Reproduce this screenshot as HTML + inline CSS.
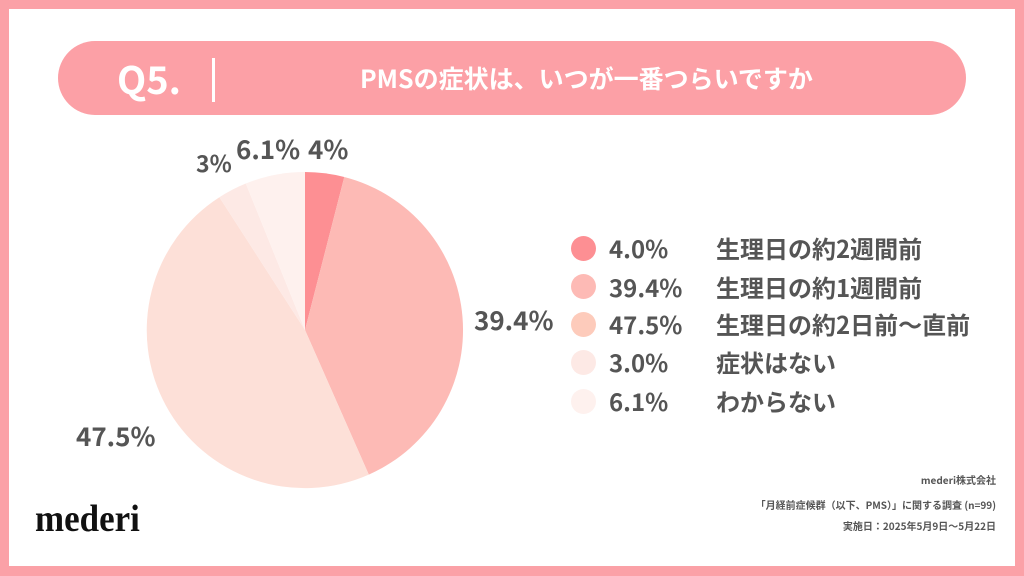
<!DOCTYPE html>
<html><head><meta charset="utf-8"><style>
html,body{margin:0;padding:0}
body{width:1024px;height:576px;background:#fba1a7;position:relative;overflow:hidden;font-family:"Noto Sans CJK JP","Liberation Sans",sans-serif;}
div{line-height:1}
.card{position:absolute;left:9px;top:9px;width:1006px;height:557px;background:#fff;}
.banner{position:absolute;left:58px;top:41px;width:908px;height:74px;border-radius:37px;background:#fca0a6;color:#fff;}
.q{position:absolute;left:117px;top:59px;font-size:38px;font-weight:bold;color:#fff;}
.bar{position:absolute;left:212px;top:58px;width:3px;height:44px;background:#fff;}
.title{position:absolute;left:360px;top:66px;font-size:25px;font-weight:bold;color:#fff;}
.t{position:absolute;font-weight:bold;color:#555;white-space:nowrap;}
.dot{position:absolute;width:25px;height:25px;border-radius:50%;left:571px;}
.ft{position:absolute;right:28px;font-size:10px;color:#555;font-weight:bold;}
</style></head><body>
<div class="card"></div>
<div class="banner"></div>
<div class="q">Q5.</div><div class="bar"></div>
<div class="title">PMSの症状は、いつが一番つらいですか</div>
<svg style="position:absolute;left:0;top:0" width="1024" height="576">
<path d="M305,330 L305,172 A158,158 0 0 1 344.3,177 Z" fill="#fd8f93"/>
<path d="M305,330 L344.3,177 A158,158 0 0 1 368.8,474.6 Z" fill="#fdbab5"/>
<path d="M305,330 L368.8,474.6 A158,158 0 0 1 219.4,197.2 Z" fill="#fde0d8"/>
<path d="M305,330 L219.4,197.2 A158,158 0 0 1 245.8,183.5 Z" fill="#fde9e5"/>
<path d="M305,330 L245.8,183.5 A158,158 0 0 1 305,172 Z" fill="#fef1ee"/>
</svg>
<div class="t" style="left:196px;top:151px;font-size:23px">3%</div>
<div class="t" style="left:236px;top:136px;font-size:26px">6.1%</div>
<div class="t" style="left:308px;top:136px;font-size:26px">4%</div>
<div class="t" style="left:474px;top:307px;font-size:26px">39.4%</div>
<div class="t" style="left:76px;top:423px;font-size:26px">47.5%</div>
<div class="dot" style="top:236px;background:#fd8f93"></div>
<div class="dot" style="top:274px;background:#fdbab5"></div>
<div class="dot" style="top:312px;background:#fdcbbb"></div>
<div class="dot" style="top:350px;background:#fde9e5"></div>
<div class="dot" style="top:389px;background:#fef1ee"></div>
<div class="t" style="left:609px;top:236px;font-size:24px">4.0%</div>
<div class="t" style="left:609px;top:275px;font-size:24px">39.4%</div>
<div class="t" style="left:609px;top:312px;font-size:24px">47.5%</div>
<div class="t" style="left:609px;top:350px;font-size:24px">3.0%</div>
<div class="t" style="left:609px;top:389px;font-size:24px">6.1%</div>
<div class="t" style="left:716px;top:236px;font-size:24px">生理日の約2週間前</div>
<div class="t" style="left:716px;top:275px;font-size:24px">生理日の約1週間前</div>
<div class="t" style="left:716px;top:312px;font-size:24px">生理日の約2日前〜直前</div>
<div class="t" style="left:716px;top:350px;font-size:24px">症状はない</div>
<div class="t" style="left:716px;top:389px;font-size:24px">わからない</div>
<div style="position:absolute;left:35px;top:500px;font-family:'Liberation Serif',serif;font-weight:bold;font-size:38px;color:#111;transform:scaleX(0.92);transform-origin:left">mederi</div>
<div class="ft" style="top:475px">mederi株式会社</div>
<div class="ft" style="top:500px">「月経前症候群（以下、PMS）」に関する調査 (n=99)</div>
<div class="ft" style="top:521px">実施日：2025年5月9日〜5月22日</div>
</body></html>
